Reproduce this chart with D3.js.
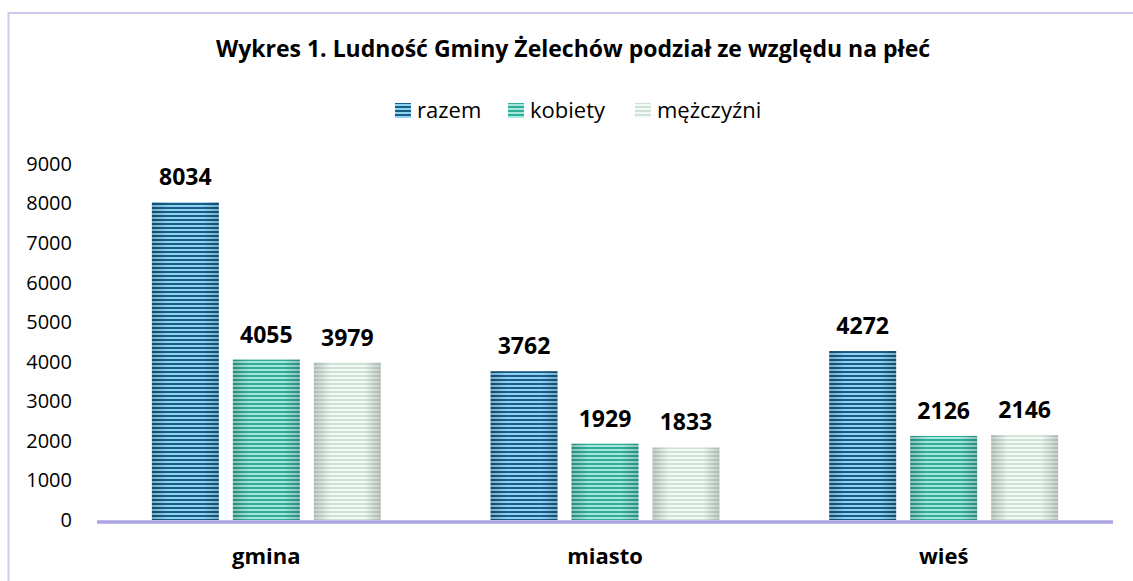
<html>
<head>
  <meta charset="utf-8" />
  <script src="https://cdnjs.cloudflare.com/ajax/libs/d3/7.8.5/d3.min.js"></script>
  <style>
    body { margin: 0; background: #fff; }
    svg text { font-family: "Open Sans", Lato, sans-serif; }
    .domain { display: none; }
    .tick line { display: none; }
  </style>
</head>
<body>
  <svg></svg>
  <script>
    var categories = ["gmina", "miasto", "wieś"]
    var series = ["razem", "kobiety", "mężczyźni"]
    var razem = [8034, 3762, 4272]
    var kobiety = [4055, 1929, 2126]
    var mezczyzni = [3979, 1833, 2146]
    var yTicks = [0, 1000, 2000, 3000, 4000, 5000, 6000, 7000, 8000, 9000]
    var title = "Wykres 1. Ludność Gminy Żelechów podział ze względu na płeć"

    var values = { "razem": razem, "kobiety": kobiety, "mężczyźni": mezczyzni }
    var rows = categories.map((c, i) => ({ cat: c, vals: series.map(s => ({ key: s, value: values[s][i] })) }))

    var svg = d3.select("svg").attr("width", 1133).attr("height", 581)

    // stripe patterns: base colour + lighter horizontal lines
    var fills = {
      "razem": ["#1b5c86", "#8fd3f2"],
      "kobiety": ["#2fae9a", "#a7e6db"],
      "mężczyźni": ["#cfe2d8", "#f3f9f5"]
    }
    var defs = svg.append("defs")
    series.forEach((s, i) => {
      var p = defs.append("pattern")
        .attr("id", "pat" + i)
        .attr("patternUnits", "userSpaceOnUse")
        .attr("width", 8).attr("height", 4)
      p.append("rect").attr("width", 8).attr("height", 4).attr("fill", fills[s][0])
      p.append("rect").attr("y", 1).attr("width", 8).attr("height", 2).attr("fill", fills[s][1])
      var g = defs.append("linearGradient").attr("id", "shade" + i)
      g.append("stop").attr("offset", "0%").attr("stop-color", "#000").attr("stop-opacity", 0.18)
      g.append("stop").attr("offset", "25%").attr("stop-color", "#000").attr("stop-opacity", 0)
      g.append("stop").attr("offset", "75%").attr("stop-color", "#000").attr("stop-opacity", 0)
      g.append("stop").attr("offset", "100%").attr("stop-color", "#000").attr("stop-opacity", 0.18)
    })

    // chart frame
    svg.append("rect")
      .attr("x", 8.5).attr("y", 13).attr("width", 1140).attr("height", 600)
      .attr("fill", "none").attr("stroke", "#cdc9f0").attr("stroke-width", 2)

    svg.append("text")
      .attr("x", 573).attr("y", 57)
      .attr("text-anchor", "middle")
      .style("font-size", "23px").style("font-weight", "bold")
      .text(title)

    var x0 = d3.scaleBand().domain(categories).range([97, 1113])
    var groupW = x0.bandwidth() * 0.676
    var x1 = d3.scaleBand().domain(series)
      .range([(x0.bandwidth() - groupW) / 2, (x0.bandwidth() + groupW) / 2])
      .paddingInner(0.173)
    var y = d3.scaleLinear().domain([0, 9000]).range([520, 164])

    svg.append("g")
      .attr("transform", "translate(76,0)")
      .call(d3.axisLeft(y).tickValues(yTicks).tickFormat(d3.format("d")).tickSize(0).tickPadding(4))
      .selectAll("text")
        .style("font-size", "20px").attr("fill", "#000")

    var groups = svg.selectAll("g.grp")
      .data(rows)
      .enter()
      .append("g")
        .attr("class", "grp")
        .attr("transform", d => "translate(" + x0(d.cat) + ",0)")

    groups.selectAll("rect.bar")
      .data(d => d.vals)
      .enter()
      .append("rect")
        .attr("class", "bar")
        .attr("x", d => x1(d.key))
        .attr("y", d => y(d.value))
        .attr("width", x1.bandwidth())
        .attr("height", d => y(0) - y(d.value))
        .attr("fill", d => "url(#pat" + series.indexOf(d.key) + ")")

    groups.selectAll("rect.shade")
      .data(d => d.vals)
      .enter()
      .append("rect")
        .attr("class", "shade")
        .attr("x", d => x1(d.key))
        .attr("y", d => y(d.value))
        .attr("width", x1.bandwidth())
        .attr("height", d => y(0) - y(d.value))
        .attr("fill", d => "url(#shade" + series.indexOf(d.key) + ")")

    groups.selectAll("text.val")
      .data(d => d.vals)
      .enter()
      .append("text")
        .attr("class", "val")
        .attr("x", d => x1(d.key) + x1.bandwidth() / 2)
        .attr("y", d => y(d.value) - 17)
        .attr("text-anchor", "middle")
        .style("font-size", "23px").style("font-weight", "bold")
        .text(d => d.value)

    // baseline
    svg.append("line")
      .attr("x1", 97).attr("x2", 1113)
      .attr("y1", y(0) + 2).attr("y2", y(0) + 2)
      .attr("stroke", "#aba6e2").attr("stroke-width", 3.5)

    svg.append("g")
      .attr("transform", "translate(0," + (y(0) + 2) + ")")
      .call(d3.axisBottom(x0).tickSize(0).tickPadding(26))
      .selectAll("text")
        .style("font-size", "22px").style("font-weight", "bold").attr("fill", "#000")

    // legend
    var legX = [395, 508, 635]
    var leg = svg.selectAll("g.leg")
      .data(series)
      .enter()
      .append("g")
        .attr("class", "leg")
        .attr("transform", (d, i) => "translate(" + legX[i] + ",103)")
    leg.append("rect")
      .attr("width", 16).attr("height", 15)
      .attr("fill", (d, i) => "url(#pat" + i + ")")
    leg.append("text")
      .attr("x", 22).attr("y", 15)
      .style("font-size", "22px")
      .text(d => d)
  </script>
</body>
</html>
